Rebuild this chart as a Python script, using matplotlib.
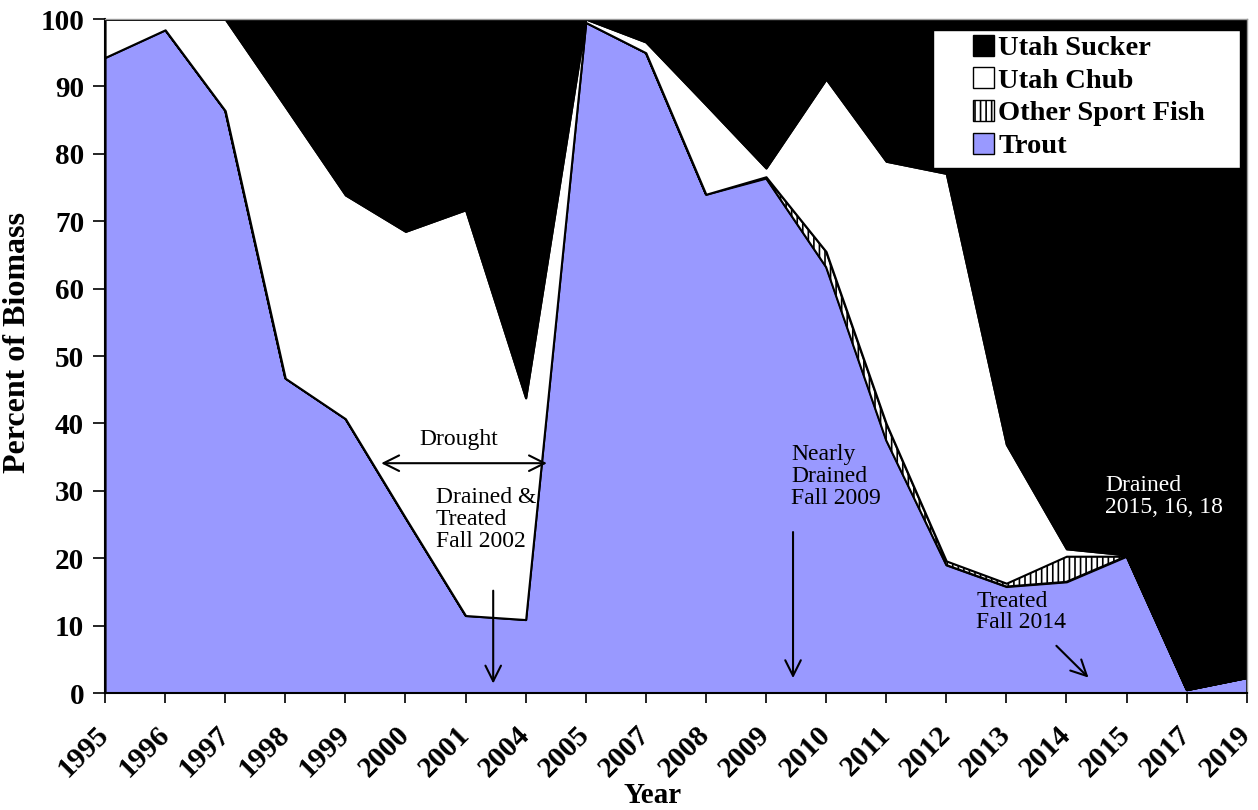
import matplotlib
matplotlib.use("Agg")
import matplotlib.pyplot as plt
import matplotlib.transforms as mtransforms
from matplotlib.patches import Patch, Rectangle
import numpy as np

plt.rcParams['font.family'] = ['Liberation Serif', 'DejaVu Serif']
plt.rcParams['hatch.linewidth'] = 1.2

years = ['1995', '1996', '1997', '1998', '1999', '2000', '2001', '2004', '2005', '2007',
         '2008', '2009', '2010', '2011', '2012', '2013', '2014', '2015', '2017', '2019']
trout = [94.3, 98.4, 86.4, 46.7, 40.7, 26.0, 11.5, 10.9, 99.5, 95.0,
         74.0, 76.4, 63.2, 37.5, 19.0, 15.8, 16.5, 20.3, 0.5, 2.3]
other_sport = [0, 0, 0, 0, 0, 0, 0, 0, 0, 0,
               0, 0.2, 2.3, 2.5, 0.6, 0.5, 3.8, 0, 0, 0]
utah_chub = [5.7, 1.6, 13.6, 40.3, 33.2, 42.5, 60.2, 32.9, 0.5, 1.6,
             13.3, 1.3, 25.6, 38.9, 57.5, 20.6, 1.1, 0.2, 0, 0]
utah_sucker = [0, 0, 0, 13.0, 26.1, 31.5, 28.3, 56.2, 0, 3.4,
               12.7, 22.1, 8.9, 21.1, 22.9, 63.1, 78.6, 79.5, 99.5, 97.7]

labels = ['Trout', 'Other Sport Fish', 'Utah Chub', 'Utah Sucker']
colors = ['#9999FF', 'white', 'white', 'black']
hatches = [None, '|||', None, None]

fig = plt.figure(figsize=(12.58, 8.10), dpi=100)
ax = fig.add_axes([0.0835, 0.1444, 0.9075, 0.8321])

x = np.arange(len(years))
polys = ax.stackplot(x, trout, other_sport, utah_chub, utah_sucker,
                     colors=colors, edgecolor='black', linewidth=1.5)
for p, h in zip(polys, hatches):
    if h:
        p.set_hatch(h)

ax.set_xlim(0, len(years) - 1)
ax.set_ylim(0, 100)
ax.set_xticks(x)
ax.set_xticklabels(years, rotation=45, ha='right', va='center', rotation_mode='anchor',
                   fontsize=21.5, fontweight='bold')
shift = mtransforms.ScaledTranslation(-3 / 100, 0, fig.dpi_scale_trans)
for lbl in ax.get_xticklabels():
    lbl.set_transform(lbl.get_transform() + shift)
ax.set_yticks(np.arange(0, 101, 10))
ax.set_yticklabels([str(v) for v in range(0, 101, 10)], fontsize=21, fontweight='bold')
ax.tick_params(axis='x', direction='out', length=7, width=1.2, pad=20)
ax.tick_params(axis='y', direction='out', length=9, width=1.2, pad=6)
ax.set_xlabel('Year', fontsize=21, fontweight='bold', va='center')
ax.xaxis.set_label_coords(0.48, -0.152)
ax.set_ylabel('Percent of Biomass', fontsize=23, fontweight='bold')
ax.yaxis.set_label_coords(-0.064, 0.52)

for s in ['left', 'bottom']:
    ax.spines[s].set_linewidth(1.5)
    ax.spines[s].set_color('black')
for s in ['top', 'right']:
    ax.spines[s].set_linewidth(1.0)
    ax.spines[s].set_color('#999999')

# legend box drawn separately so it can be wider than the entries
ax.add_patch(Rectangle((0.725, 0.779), 0.269, 0.2047, transform=ax.transAxes,
                       facecolor='white', edgecolor='black', linewidth=1.0, zorder=5))
handles = [Patch(facecolor=colors[i], edgecolor='black', hatch=hatches[i], label=labels[i])
           for i in range(len(labels))][::-1]
leg = ax.legend(handles=handles, loc='upper left', bbox_to_anchor=(0.755, 0.985),
                prop={'size': 20.5, 'weight': 'bold'}, frameon=False,
                handlelength=0.75, handleheight=0.75, handletextpad=0.15,
                labelspacing=0.22, borderpad=0.2, borderaxespad=0)
leg.set_zorder(6)

# annotations
arrow = dict(arrowstyle='->', color='black', lw=1.5, mutation_scale=28)
ax.annotate('', xy=(7.4, 34.1), xytext=(4.55, 34.1),
            arrowprops=dict(arrowstyle='<->', color='black', lw=1.5, mutation_scale=28))
ax.text(5.88, 36.0, 'Drought', fontsize=17, ha='center', va='bottom')
ax.text(5.5, 30.5, 'Drained &\nTreated\nFall 2002', fontsize=17, ha='left', va='top',
        linespacing=1.05)
ax.annotate('', xy=(6.46, 1.0), xytext=(6.46, 15.6), arrowprops=arrow)
ax.text(11.42, 36.9, 'Nearly\nDrained\nFall 2009', fontsize=17, ha='left', va='top',
        linespacing=1.05)
ax.annotate('', xy=(11.45, 1.8), xytext=(11.45, 24.3), arrowprops=arrow)
ax.text(14.5, 15.2, 'Treated\nFall 2014', fontsize=17, ha='left', va='top',
        linespacing=1.05)
ax.annotate('', xy=(16.4, 2.0), xytext=(15.8, 7.3), arrowprops=arrow)
ax.text(16.65, 32.3, 'Drained\n2015, 16, 18', fontsize=17, ha='left', va='top',
        color='white', linespacing=1.05)

fig.savefig('out.png', dpi=100)
